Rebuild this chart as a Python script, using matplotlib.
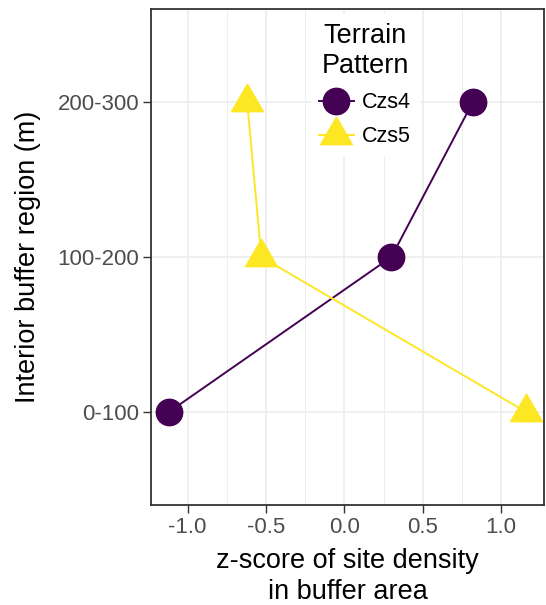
import matplotlib
matplotlib.use("Agg")
import matplotlib.pyplot as plt
from matplotlib.ticker import FixedLocator
import numpy as np

plt.rcParams['font.family'] = ['Liberation Sans', 'DejaVu Sans']

# buffer regions (bottom to top) and z-scores per terrain pattern
regions = ["0-100", "100-200", "200-300"]
czs4 = [-1.12, 0.30, 0.82]
czs5 = [1.16, -0.53, -0.62]

purple = "#440154"
yellow = "#FDE725"

# equilateral triangle centred on its centroid (like R's pch 17)
tri = [(0, 1), (-0.866, -0.5), (0.866, -0.5), (0, 1)]

fig = plt.figure(figsize=(5.46, 6.05), dpi=100)
ax = fig.add_axes([151 / 546, 1 - 505 / 605, 393 / 546, 496 / 605])

ypos = np.arange(len(regions))
ax.plot(czs4, ypos, color=purple, lw=1.4, marker="o", ms=19,
        mec=purple, mfc=purple, label="Czs4", zorder=3)
ax.plot(czs5, ypos, color=yellow, lw=1.4, marker=tri, ms=26.5,
        mec=yellow, mfc=yellow, label="Czs5", zorder=3)

# ggplot-like 5% expansion on x, 0.6 units on discrete y
allx = czs4 + czs5
span = max(allx) - min(allx)
ax.set_xlim(min(allx) - 0.05 * span, max(allx) + 0.05 * span)
ax.set_ylim(-0.6, len(regions) - 1 + 0.6)

ax.set_yticks(ypos)
ax.set_yticklabels(regions)
ax.xaxis.set_major_locator(FixedLocator([-1.0, -0.5, 0.0, 0.5, 1.0]))
ax.set_xticklabels(["-1.0", "-0.5", "0.0", "0.5", "1.0"])
ax.xaxis.set_minor_locator(FixedLocator([-0.75, -0.25, 0.25, 0.75]))

ax.grid(True, which="major", color="#EBEBEB", lw=1.1, zorder=0)
ax.grid(True, which="minor", axis="x", color="#EBEBEB", lw=0.6, zorder=0)
ax.set_axisbelow(True)

for s in ax.spines.values():
    s.set_color("#333333")
    s.set_linewidth(1.3)

ax.tick_params(axis="both", which="major", length=5.5, width=1.0,
               color="#333333", labelcolor="#4D4D4D", labelsize=16, pad=3)
ax.tick_params(axis="x", which="minor", length=0)

ax.set_xlabel("z-score of site density\nin buffer area", fontsize=19.5,
              labelpad=7, linespacing=1.25)
ax.set_ylabel("Interior buffer region (m)", fontsize=19.5, labelpad=12)

leg = ax.legend(title="Terrain\nPattern", loc="upper center",
                bbox_to_anchor=(0.545, 0.994), borderaxespad=0.1,
                fontsize=15.5, title_fontsize=19.5, frameon=True,
                facecolor="white", edgecolor="none", framealpha=1,
                handlelength=1.6, handletextpad=0.4,
                labelspacing=0.62, borderpad=0.4, fancybox=False)
leg.get_title().set_multialignment("center")
leg.set_zorder(5)

fig.savefig("out.png", dpi=100)
